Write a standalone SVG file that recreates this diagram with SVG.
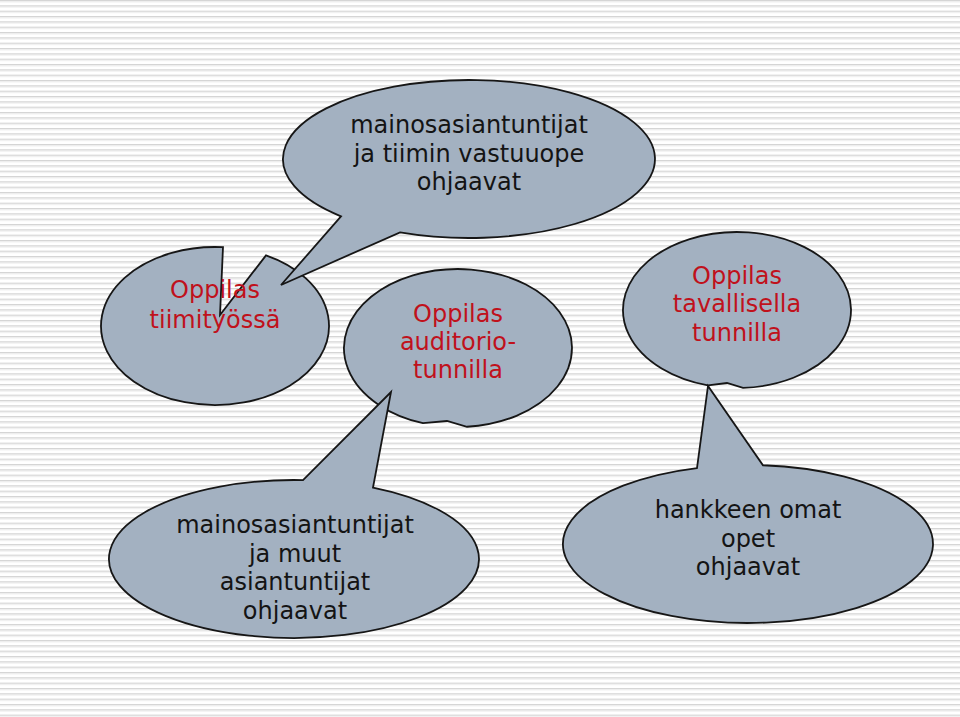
<svg xmlns="http://www.w3.org/2000/svg" width="960" height="717" viewBox="0 0 960 717">
<defs>
<pattern id="stripes" x="0" y="0" width="960" height="5.333" patternUnits="userSpaceOnUse">
<rect x="0" y="0" width="960" height="1.3" fill="#d3d3d3"/>
<rect x="0" y="1.3" width="960" height="1" fill="#ececec"/>
</pattern>
<style>
.bub{fill:#a3b1c1;stroke:#161616;stroke-width:1.8;stroke-linejoin:miter}
.t{font-family:"DejaVu Sans",Verdana,sans-serif;font-size:24px;text-anchor:middle}
.blk{fill:#141414}
.red{fill:#c0111c}
</style>
</defs>
<rect width="960" height="717" fill="#ffffff"/>
<rect width="960" height="717" fill="url(#stripes)"/>

<g id="tiimityossa">
<path class="bub" d="M 266 255.35 A 114 79 0 1 1 223 247.2 L 220 315 Z"/>
<text class="t red" x="215" y="298">Oppilas</text>
<text class="t red" x="215" y="328">tiimityössä</text>
</g>

<g id="vastuuope">
<path class="bub" d="M 341 216.32 A 186 79 0 1 1 400 232.36 L 281 285 Z"/>
<text class="t blk" x="469" y="133">mainosasiantuntijat</text>
<text class="t blk" x="469" y="162">ja tiimin vastuuope</text>
<text class="t blk" x="469" y="190">ohjaavat</text>
</g>

<g id="auditorio">
<path class="bub" d="M 423 423.19 A 114 79 0 1 1 467 426.75 L 447 421 Z"/>
<text class="t red" x="458" y="322">Oppilas</text>
<text class="t red" x="458" y="350">auditorio-</text>
<text class="t red" x="458" y="378">tunnilla</text>
</g>

<g id="tavallinen">
<path class="bub" d="M 708 385.43 A 114 78 0 1 1 743 387.89 L 727 383 Z"/>
<text class="t red" x="737" y="284">Oppilas</text>
<text class="t red" x="737" y="312">tavallisella</text>
<text class="t red" x="737" y="341">tunnilla</text>
</g>

<g id="asiantuntijat">
<path class="bub" d="M 373 487.57 A 185 79 0 1 1 303 480.09 L 391 392 Z"/>
<text class="t blk" x="295" y="533">mainosasiantuntijat</text>
<text class="t blk" x="295" y="562">ja muut</text>
<text class="t blk" x="295" y="590">asiantuntijat</text>
<text class="t blk" x="295" y="619">ohjaavat</text>
</g>

<g id="omat-opet">
<path class="bub" d="M 763 465.26 A 185 79 0 1 1 697 468.06 L 708 386 Z"/>
<text class="t blk" x="748" y="518">hankkeen omat</text>
<text class="t blk" x="748" y="547">opet</text>
<text class="t blk" x="748" y="575">ohjaavat</text>
</g>
</svg>
